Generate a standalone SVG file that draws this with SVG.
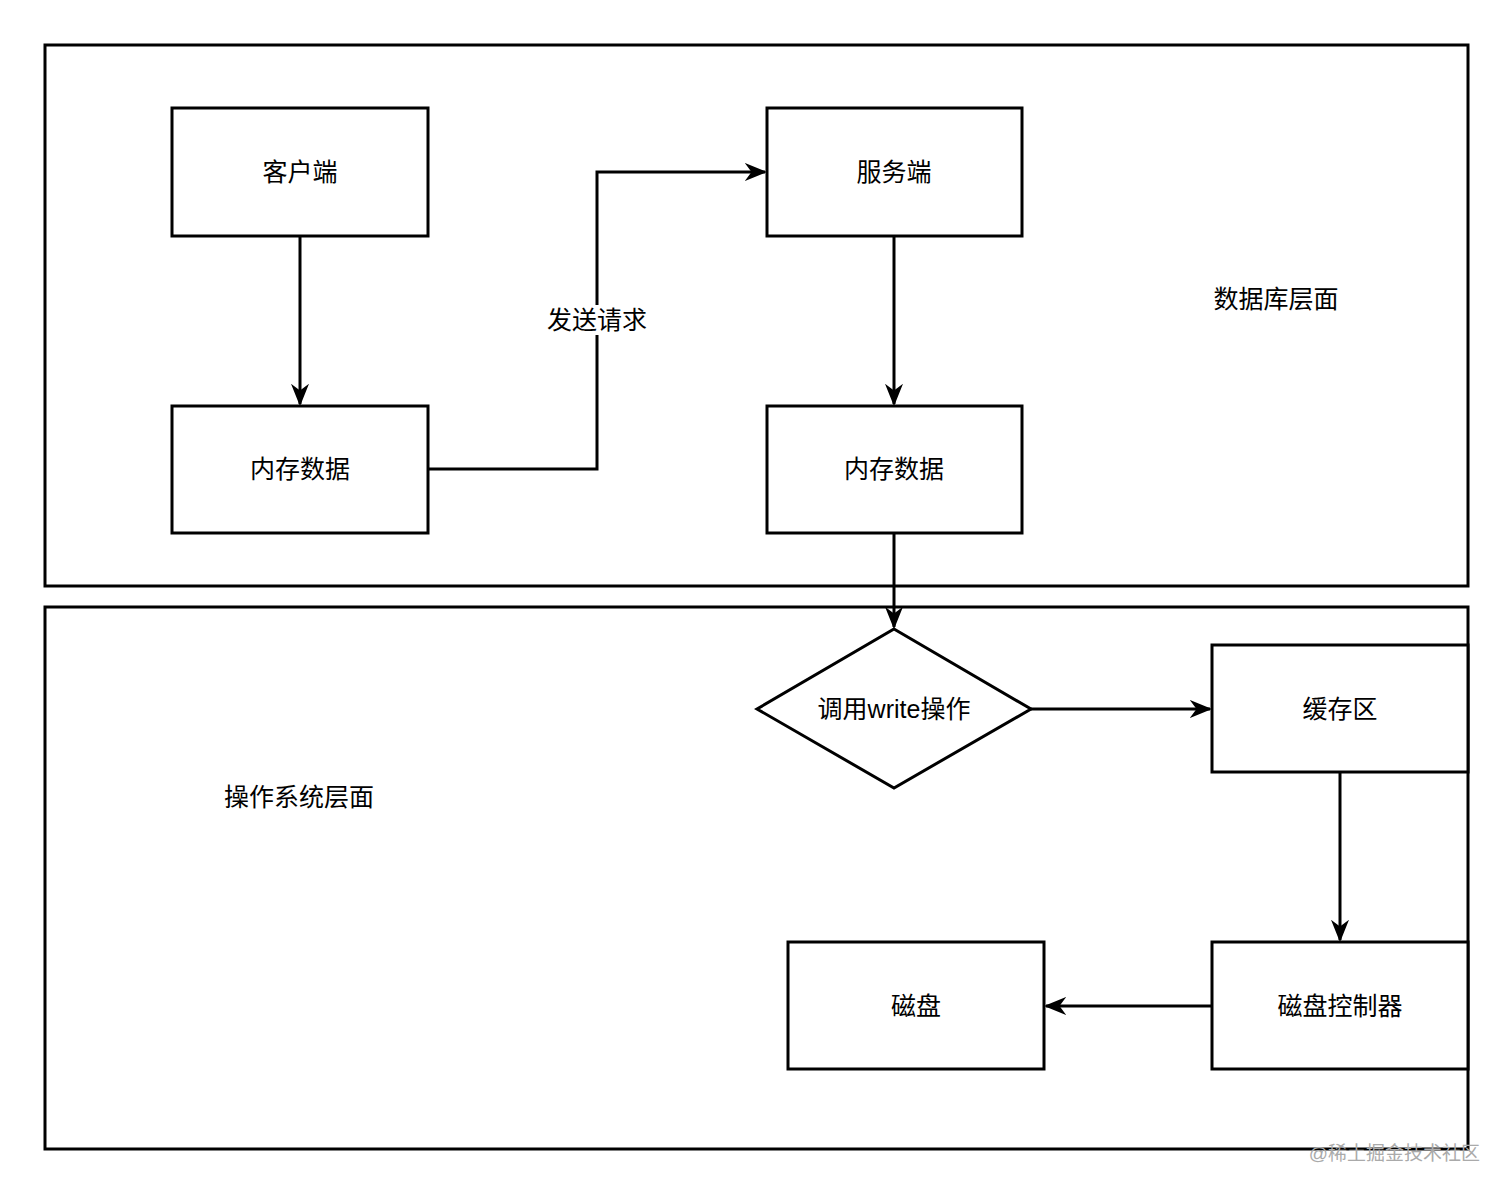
<svg xmlns="http://www.w3.org/2000/svg" width="1512" height="1193" viewBox="0 0 1512 1193">
<defs>
<style>
.b{fill:#fff;stroke:#000;stroke-width:3}
.f{fill:none;stroke:#000;stroke-width:3}
.t{font-family:"Liberation Sans","Noto Sans CJK SC",sans-serif;font-size:25px;text-anchor:middle;dominant-baseline:central;fill:#000}
</style>
<marker id="a" viewBox="0 0 10 10" refX="9" refY="5" markerWidth="7.5" markerHeight="7.5" orient="auto" markerUnits="strokeWidth"><path d="M0,1L10,5L0,9L3,5Z" fill="#000"/></marker>
</defs>
<rect width="1512" height="1193" fill="#fff"/>
<g id="db-layer"><rect class="f" x="45" y="45" width="1423" height="541"/><text class="t" x="1276" y="299">数据库层面</text></g>
<g id="os-layer"><rect class="f" x="45" y="607" width="1423" height="542"/><text class="t" x="299" y="797">操作系统层面</text></g>
<g id="connectors">
<path class="f" d="M300,236V404" marker-end="url(#a)"/>
<path class="f" d="M428,469H597V172H765" marker-end="url(#a)"/>
<path class="f" d="M894,236V404" marker-end="url(#a)"/>
<path class="f" d="M894,533V627" marker-end="url(#a)"/>
<path class="f" d="M1031,709H1210" marker-end="url(#a)"/>
<path class="f" d="M1340,772V940" marker-end="url(#a)"/>
<path class="f" d="M1212,1006H1046" marker-end="url(#a)"/>
</g>
<g id="label-send"><rect x="545" y="305" width="104" height="30" fill="#fff"/><text class="t" x="597" y="320">发送请求</text></g>
<g id="client"><rect class="b" x="172" y="108" width="256" height="128"/><text class="t" x="300" y="172">客户端</text></g>
<g id="client-mem"><rect class="b" x="172" y="406" width="256" height="127"/><text class="t" x="300" y="469">内存数据</text></g>
<g id="server"><rect class="b" x="767" y="108" width="255" height="128"/><text class="t" x="894" y="172">服务端</text></g>
<g id="server-mem"><rect class="b" x="767" y="406" width="255" height="127"/><text class="t" x="894" y="469">内存数据</text></g>
<g id="write"><path class="b" d="M894,629L1031,709L894,788L757,709Z"/><text class="t" x="894" y="709">调用write操作</text></g>
<g id="buffer"><rect class="b" x="1212" y="645" width="256" height="127"/><text class="t" x="1340" y="709">缓存区</text></g>
<g id="ctrl"><rect class="b" x="1212" y="942" width="256" height="127"/><text class="t" x="1340" y="1006">磁盘控制器</text></g>
<g id="disk"><rect class="b" x="788" y="942" width="256" height="127"/><text class="t" x="916" y="1006">磁盘</text></g>
<text x="1480" y="1153" font-family="Liberation Sans,Noto Sans CJK SC,sans-serif" font-size="19" fill="#aaa" text-anchor="end" dominant-baseline="central">@稀土掘金技术社区</text>
</svg>
